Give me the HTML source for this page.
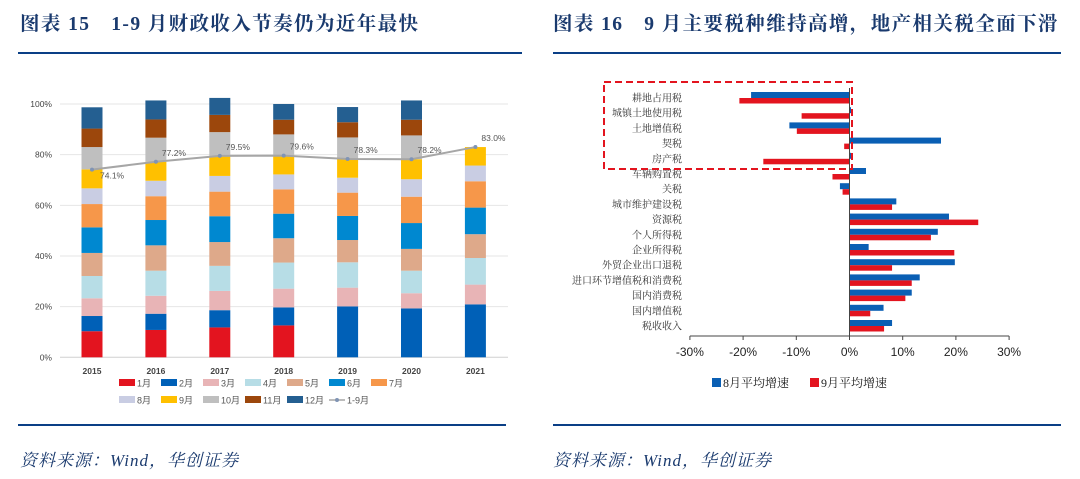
<!DOCTYPE html>
<html><head><meta charset="utf-8"><style>
body{margin:0;width:1080px;height:479px;background:#fff;overflow:hidden;position:relative;font-family:"Liberation Serif","Noto Serif CJK SC",serif}
.t{position:absolute;top:8px;font-size:19.5px;font-weight:bold;color:#1a3a6e;letter-spacing:1.4px;white-space:nowrap}
.hl{position:absolute;height:2px;background:#0a3f86}
.src{position:absolute;top:446px;font-size:17px;font-style:italic;color:#1a3a6e;letter-spacing:1px}
svg{position:absolute;left:0;top:0}
</style></head><body>
<div class="t" style="left:20px">图表 15　1-9 月财政收入节奏仍为近年最快</div>
<div class="t" style="left:553px">图表 16　9 月主要税种维持高增，地产相关税全面下滑</div>
<div class="hl" style="left:18px;width:504px;top:52px"></div>
<div class="hl" style="left:553px;width:508px;top:52px"></div>
<div class="hl" style="left:18px;width:488px;top:424px"></div>
<div class="hl" style="left:553px;width:508px;top:424px"></div>
<div class="src" style="left:20px">资料来源：Wind，华创证券</div>
<div class="src" style="left:553px">资料来源：Wind，华创证券</div>
<svg id="c" width="1080" height="479"></svg>
<script>
const years=["2015","2016","2017","2018","2019","2020","2021"];
const months=["1月","2月","3月","4月","5月","6月","7月","8月","9月","10月","11月","12月"];
const s2015=[10.3,6.0,7.0,8.8,9.1,10.1,9.2,6.2,7.5,8.8,7.3,8.4];
const s2016=[10.8,6.4,7.1,9.9,10.0,10.0,9.4,6.1,7.5,9.5,7.2,7.5];
const s2017=[11.8,6.8,7.6,9.9,9.4,10.2,9.7,6.2,7.9,9.4,6.8,6.7];
const s2018=[12.6,7.1,7.4,10.3,9.6,9.7,9.6,5.9,7.4,8.4,5.8,6.2];
const s2019=[0,20.1,7.4,10.0,8.8,9.5,9.2,5.9,7.4,8.5,6.0,6.0];
const s2020=[0,19.3,6.0,8.9,8.6,10.2,10.4,6.9,7.9,9.4,6.2,7.6];
const s2021=[0,20.9,7.8,10.5,9.4,10.5,10.4,6.2,7.3,0,0,0];
const cum19=[74.1,77.2,79.5,79.6,78.3,78.2,83.0];
const yTicks=[0,20,40,60,80,100];
const taxes=["耕地占用税","城镇土地使用税","土地增值税","契税","房产税","车辆购置税","关税","城市维护建设税","资源税","个人所得税","企业所得税","外贸企业出口退税","进口环节增值税和消费税","国内消费税","国内增值税","税收收入"];
const aug=[-18.5,0,-11.3,17.2,0,3.1,-1.8,8.8,18.7,16.6,3.6,19.8,13.2,11.7,6.4,8.0];
const sep=[-20.7,-9.0,-9.9,-1.0,-16.2,-3.2,-1.3,8.0,24.2,15.3,19.7,8.0,11.7,10.5,3.9,6.5];
const xTicks=[-30,-20,-10,0,10,20,30];
const colors=["#e3141f","#0060b7","#e8b4b6","#b7dde6","#dea98a","#0088d0","#f6974a","#c9cde3","#ffc000","#bfbfbf","#9c470c","#245f91"];
const series=[s2015,s2016,s2017,s2018,s2019,s2020,s2021];
const svg=document.getElementById('c');const NS="http://www.w3.org/2000/svg";
function mk(t,a,txt){const e=document.createElementNS(NS,t);for(const k in a)e.setAttribute(k,a[k]);if(txt!=null)e.textContent=txt;svg.appendChild(e);return e;}
const SF='"Liberation Sans","Noto Sans CJK SC",sans-serif';
const y=v=>357.3-v*2.533;const bx=i=>92+i*63.9;
yTicks.forEach(t=>{let l=mk('line',{x1:60,x2:508,y1:y(t),y2:y(t),stroke:t?'#e6e6e6':'#d0d0d0','stroke-width':1});

let tx=mk('text',{x:52,y:y(t)+3,'font-size':8.5,'text-anchor':'end',fill:'#444','font-family':SF},t+'%');
});
series.forEach((s,i)=>{let acc=0;s.forEach((v,m)=>{if(v>0){let r=mk('rect',{x:bx(i)-10.5,y:y(acc+v),width:21,height:v*2.533,fill:colors[m]});
}acc+=v;});
let tx=mk('text',{x:bx(i),y:374,'font-size':8.5,'font-weight':'bold','text-anchor':'middle',fill:'#444','font-family':SF},years[i]);
});
let pl=mk('polyline',{points:cum19.map((v,i)=>bx(i)+','+y(v)).join(' '),fill:'none',stroke:'#a6a6a6','stroke-width':2});

cum19.forEach((v,i)=>{let c=mk('circle',{cx:bx(i),cy:y(v),r:2,fill:'#8094b4'});
let below=i==0;let tx=mk('text',{x:bx(i)+(below?8:6),y:y(v)+(below?9:-6),'font-size':8.5,fill:'#555','font-family':SF},v.toFixed(1)+'%');
});
months.concat(["1-9月"]).forEach((m,k)=>{const row=k<7?0:1,col=k<7?k:k-7;const lx=119+col*42,ly=row?400:383;
if(k<12){let r=mk('rect',{x:lx,y:ly-4,width:16,height:7,fill:colors[k]});}
else{let l=mk('line',{x1:lx,x2:lx+16,y1:ly,y2:ly,stroke:'#a6a6a6','stroke-width':1.5});mk('circle',{cx:lx+8,cy:ly,r:2,fill:'#8094b4'});}
let tx=mk('text',{x:lx+18,y:ly+3.5,'font-size':9,fill:'#555','font-family':SF},m);});
const X=v=>849.5+v*5.32;const ry=i=>97.5+i*15.2;
taxes.forEach((t,i)=>{
let b=mk('rect',{x:Math.min(X(0),X(aug[i])),y:ry(i)-5.5,width:Math.max(Math.abs(aug[i])*5.32,1.5),height:6,fill:'#0a5fb4'});
let r=mk('rect',{x:Math.min(X(0),X(sep[i])),y:ry(i)+0.5,width:Math.max(Math.abs(sep[i])*5.32,1.5),height:5.5,fill:'#e3141f'});
let tx=mk('text',{x:682,y:ry(i)+4,'font-size':10,'text-anchor':'end',fill:'#333'},t);});
let ax=mk('line',{x1:X(0),x2:X(0),y1:88,y2:336,stroke:'#444','stroke-width':1});
let xa=mk('line',{x1:X(-30),x2:X(30),y1:336,y2:336,stroke:'#444','stroke-width':1});
xTicks.forEach(t=>{mk('line',{x1:X(t),x2:X(t),y1:336,y2:340,stroke:'#444'});
let tx=mk('text',{x:X(t),y:356,'font-size':12,'text-anchor':'middle',fill:'#222','font-family':SF},t+'%');});
let box=mk('rect',{x:604,y:82,width:248,height:87,fill:'none',stroke:'#e3141f','stroke-width':2,'stroke-dasharray':'7,4'});
[["8月平均增速","#0a5fb4",712],["9月平均增速","#e3141f",810]].forEach(([n,c,lx])=>{let r=mk('rect',{x:lx,y:378,width:9,height:9,fill:c});
let tx=mk('text',{x:lx+11,y:387,'font-size':12,fill:'#222'},n);});
</script>
</body></html>
